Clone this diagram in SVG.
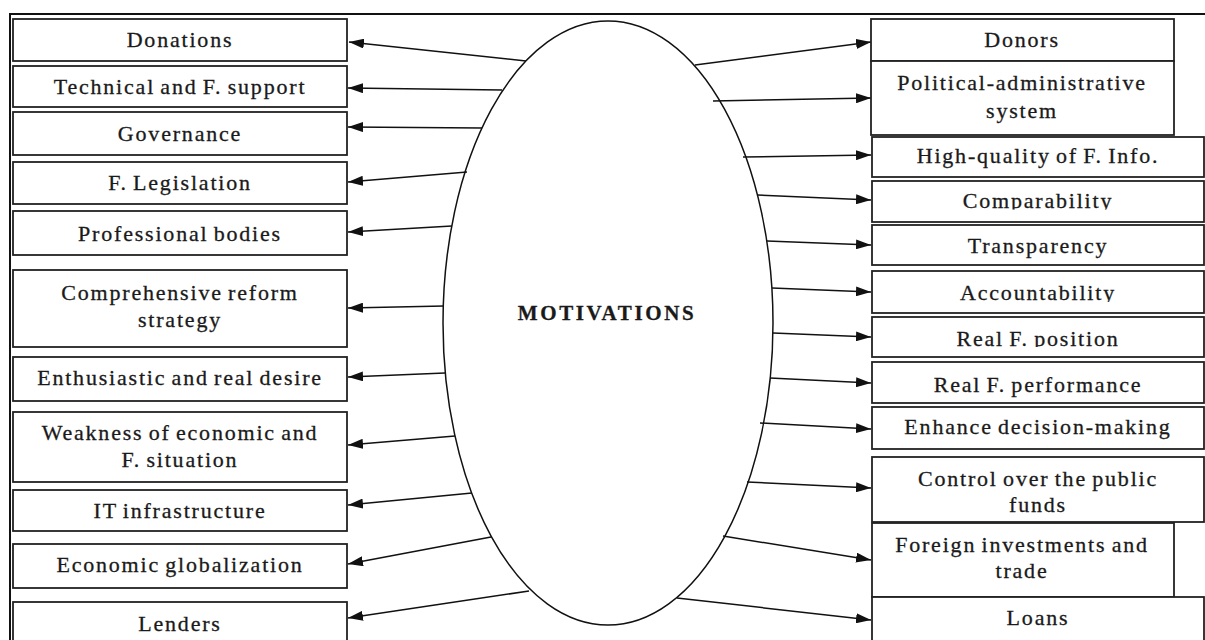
<svg xmlns="http://www.w3.org/2000/svg" width="1205" height="640" viewBox="0 0 1205 640">
<style>
.box{fill:#fff;stroke:#222;stroke-width:1.8}
.t{font-family:"Liberation Serif","Times New Roman",serif;font-size:22px;letter-spacing:1.8px;word-spacing:-2px;fill:#1a1a1a;stroke:#1a1a1a;stroke-width:0.3;text-anchor:middle}
.c{fill:none;stroke:#111;stroke-width:1.5}
.frame{fill:none;stroke:#111;stroke-width:2}
</style>
<defs>
<marker id="ah" markerUnits="userSpaceOnUse" markerWidth="16" markerHeight="10" refX="15" refY="5" orient="auto">
<path d="M0,0 L15,5 L0,10 Z" fill="#111"/>
</marker>
<clipPath id="clipComp"><rect x="872" y="181" width="332" height="28.5"/></clipPath>
<clipPath id="clipAcc"><rect x="872" y="271" width="332" height="31"/></clipPath>
<clipPath id="clipPos"><rect x="872" y="317" width="332" height="30"/></clipPath>
</defs>
<rect width="1205" height="640" fill="#fff"/>
<rect class="frame" x="10" y="14" width="1210" height="640"/>

<g id="motivations">
<ellipse cx="608" cy="323" rx="165" ry="302" fill="#fff" stroke="#111" stroke-width="1.5"/>
<text x="607" y="320" class="t" style="font-weight:bold;font-size:21px;letter-spacing:2.6px">MOTIVATIONS</text>
</g>

<g id="connectors">
<line class="c" x1="526" y1="61" x2="349" y2="42" marker-end="url(#ah)"/>
<line class="c" x1="502" y1="90" x2="348" y2="88" marker-end="url(#ah)"/>
<line class="c" x1="482" y1="128" x2="348" y2="127" marker-end="url(#ah)"/>
<line class="c" x1="467" y1="172" x2="348" y2="182" marker-end="url(#ah)"/>
<line class="c" x1="452" y1="226" x2="348" y2="232" marker-end="url(#ah)"/>
<line class="c" x1="444" y1="306" x2="348" y2="308" marker-end="url(#ah)"/>
<line class="c" x1="445" y1="373" x2="348" y2="377" marker-end="url(#ah)"/>
<line class="c" x1="455" y1="436" x2="348" y2="445" marker-end="url(#ah)"/>
<line class="c" x1="472" y1="493" x2="348" y2="505" marker-end="url(#ah)"/>
<line class="c" x1="491" y1="537" x2="348" y2="564" marker-end="url(#ah)"/>
<line class="c" x1="529" y1="591" x2="348" y2="618" marker-end="url(#ah)"/>

<line class="c" x1="695" y1="65" x2="871" y2="42" marker-end="url(#ah)"/>
<line class="c" x1="713" y1="101" x2="871" y2="98" marker-end="url(#ah)"/>
<line class="c" x1="743" y1="157" x2="871" y2="155" marker-end="url(#ah)"/>
<line class="c" x1="757" y1="195" x2="871" y2="200" marker-end="url(#ah)"/>
<line class="c" x1="767" y1="241" x2="871" y2="245" marker-end="url(#ah)"/>
<line class="c" x1="772" y1="288" x2="871" y2="292" marker-end="url(#ah)"/>
<line class="c" x1="773" y1="333" x2="871" y2="337" marker-end="url(#ah)"/>
<line class="c" x1="770" y1="378" x2="871" y2="383" marker-end="url(#ah)"/>
<line class="c" x1="760" y1="423" x2="871" y2="429" marker-end="url(#ah)"/>
<line class="c" x1="747" y1="482" x2="871" y2="488" marker-end="url(#ah)"/>
<line class="c" x1="723" y1="536" x2="871" y2="560" marker-end="url(#ah)"/>
<line class="c" x1="677" y1="598" x2="871" y2="620" marker-end="url(#ah)"/>
</g>

<g id="donations"><rect class="box" x="13" y="19" width="334" height="42"/><text class="t" x="180" y="47">Donations</text></g>
<g id="technical-support"><rect class="box" x="13" y="66" width="334" height="41"/><text class="t" x="180" y="94">Technical and F. support</text></g>
<g id="governance"><rect class="box" x="13" y="112" width="334" height="43"/><text class="t" x="180" y="141">Governance</text></g>
<g id="legislation"><rect class="box" x="13" y="162" width="334" height="42"/><text class="t" x="180" y="190">F. Legislation</text></g>
<g id="professional-bodies"><rect class="box" x="13" y="211" width="334" height="44"/><text class="t" x="180" y="241">Professional bodies</text></g>
<g id="reform-strategy"><rect class="box" x="13" y="270" width="334" height="77"/><text class="t" x="180" y="300">Comprehensive reform</text><text class="t" x="180" y="327">strategy</text></g>
<g id="desire"><rect class="box" x="13" y="357" width="334" height="44"/><text class="t" x="180" y="385">Enthusiastic and real desire</text></g>
<g id="weakness"><rect class="box" x="13" y="412" width="334" height="70"/><text class="t" x="180" y="440">Weakness of economic and</text><text class="t" x="180" y="467">F. situation</text></g>
<g id="it-infrastructure"><rect class="box" x="13" y="490" width="334" height="41"/><text class="t" x="180" y="518">IT infrastructure</text></g>
<g id="globalization"><rect class="box" x="13" y="544" width="334" height="44"/><text class="t" x="180" y="572">Economic globalization</text></g>
<g id="lenders"><rect class="box" x="13" y="602" width="334" height="50"/><text class="t" x="180" y="631">Lenders</text></g>

<g id="donors"><rect class="box" x="871" y="19" width="303" height="42"/><text class="t" x="1022" y="47">Donors</text></g>
<g id="political"><rect class="box" x="871" y="61" width="303" height="74"/><text class="t" x="1022" y="90">Political-administrative</text><text class="t" x="1022" y="118">system</text></g>
<g id="high-quality"><rect class="box" x="872" y="137" width="332" height="40"/><text class="t" x="1038" y="163">High-quality of F. Info.</text></g>
<g id="comparability"><rect class="box" x="872" y="181" width="332" height="41"/><text class="t" x="1038" y="208" clip-path="url(#clipComp)">Comparability</text></g>
<g id="transparency"><rect class="box" x="872" y="225" width="332" height="40"/><text class="t" x="1038" y="253">Transparency</text></g>
<g id="accountability"><rect class="box" x="872" y="271" width="332" height="42"/><text class="t" x="1038" y="300" clip-path="url(#clipAcc)">Accountability</text></g>
<g id="position"><rect class="box" x="872" y="317" width="332" height="40"/><text class="t" x="1038" y="346" clip-path="url(#clipPos)">Real F. position</text></g>
<g id="performance"><rect class="box" x="872" y="362" width="332" height="41"/><text class="t" x="1038" y="392">Real F. performance</text></g>
<g id="decision-making"><rect class="box" x="872" y="407" width="332" height="42"/><text class="t" x="1038" y="434">Enhance decision-making</text></g>
<g id="control"><rect class="box" x="872" y="457" width="332" height="65"/><text class="t" x="1038" y="486">Control over the public</text><text class="t" x="1038" y="512">funds</text></g>
<g id="foreign"><rect class="box" x="872" y="523" width="302" height="74"/><text class="t" x="1022" y="552">Foreign investments and</text><text class="t" x="1022" y="578">trade</text></g>
<g id="loans"><rect class="box" x="872" y="597" width="332" height="55"/><text class="t" x="1038" y="625">Loans</text></g>
</svg>
